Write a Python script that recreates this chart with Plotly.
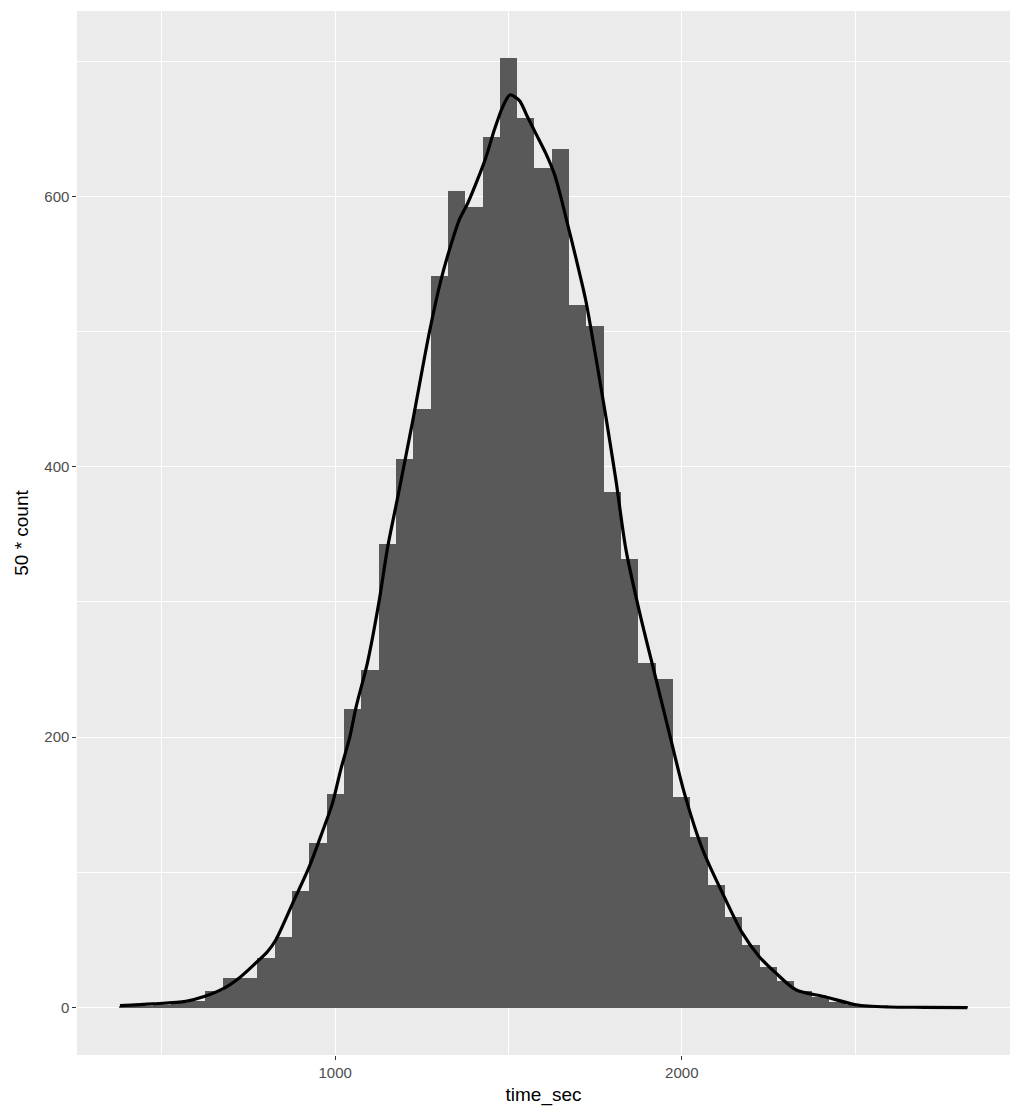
import plotly.graph_objects as go

# Histogram (binwidth 50, bins centred on multiples of 50)
bin_centers = [400, 450, 500, 550, 600, 650, 700, 750, 800, 850, 900, 950, 1000,
               1050, 1100, 1150, 1200, 1250, 1300, 1350, 1400, 1450, 1500, 1550,
               1600, 1650, 1700, 1750, 1800, 1850, 1900, 1950, 2000, 2050, 2100,
               2150, 2200, 2250, 2300, 2350, 2400, 2450, 2500, 2550, 2600, 2650,
               2700, 2750, 2800]
bin_counts = [1, 1, 2, 3, 5, 12, 22, 22, 37, 52, 86, 122, 158,
              221, 250, 343, 406, 443, 541, 604, 592, 644, 702, 658,
              621, 635, 520, 504, 381, 332, 255, 243, 156, 126, 91,
              67, 46, 30, 20, 12, 8, 4, 2, 1, 1, 0,
              0, 0, 1]

# Density curve (scaled)
dens_x = [379, 473, 569, 624, 681, 723, 771, 805, 829, 882, 925, 963, 992, 1016,
          1042, 1060, 1093, 1127, 1151, 1180, 1223, 1271, 1305, 1329, 1358, 1382,
          1410, 1435, 1459, 1483, 1504, 1531, 1555, 1579, 1608, 1632, 1651, 1670,
          1694, 1723, 1752, 1781, 1810, 1839, 1877, 1925, 1968, 2007, 2060, 2122,
          2175, 2223, 2271, 2329, 2416, 2502, 2598, 2700, 2824]
dens_y = [1.4, 2.7, 4.6, 8.3, 14.5, 21.9, 33, 41.5, 50.2, 79.8, 104, 130, 151, 176,
          200, 222, 255, 301, 340, 377, 433, 498.6, 538, 560, 582.6, 594.7,
          612, 629, 649, 666, 675, 671, 658.7, 646.4, 631.6, 616.8, 599.6, 579.9,
          555, 523, 481, 437, 390, 338.5, 293.6, 243.5, 198.7, 159, 116.9, 82.2,
          55, 37.8, 25.6, 13.2, 7.8, 2.1, 0.4, 0.2, 0]

x_major = [1000, 2000]
x_minor = [500, 1500, 2500]
y_major = [0, 200, 400, 600]
y_minor = [100, 300, 500, 700]

fig = go.Figure()
fig.add_trace(go.Bar(x=bin_centers, y=bin_counts, width=50,
                     marker=dict(color="#595959", line=dict(width=0)),
                     hoverinfo="x+y"))
fig.add_trace(go.Scatter(x=dens_x, y=dens_y, mode="lines",
                         line=dict(color="black", width=3.2, shape="spline", smoothing=0.8),
                         hoverinfo="skip"))

axis_common = dict(
    showgrid=True, gridcolor="white", gridwidth=1.1,
    zeroline=False, showline=False,
    ticks="outside", ticklen=3.6, tickwidth=1.1, tickcolor="#333333",
    tickfont=dict(family="Liberation Sans, Arial, sans-serif", size=15, color="#4D4D4D"),
    title_font=dict(family="Liberation Sans, Arial, sans-serif", size=19, color="black"),
)

fig.update_layout(
    width=1021, height=1120,
    margin=dict(l=77, r=11, t=10.6, b=64.6),
    paper_bgcolor="white", plot_bgcolor="#EBEBEB",
    showlegend=False, bargap=0,
    xaxis=dict(range=[255, 2947], tickvals=x_major, ticktext=[str(v) for v in x_major],
               minor=dict(tickvals=x_minor, showgrid=True, gridcolor="white", gridwidth=0.55, ticks=""),
               title=dict(text="time_sec", standoff=8), **axis_common),
    yaxis=dict(range=[-35.1, 737.1], tickvals=y_major, ticktext=[str(v) for v in y_major],
               minor=dict(tickvals=y_minor, showgrid=True, gridcolor="white", gridwidth=0.55, ticks=""),
               title=dict(text="50 * count", standoff=10), **axis_common),
)

fig.write_html("out.html", config={"displayModeBar": False},
               post_script="document.body.style.margin='0';document.body.style.overflow='hidden';")
